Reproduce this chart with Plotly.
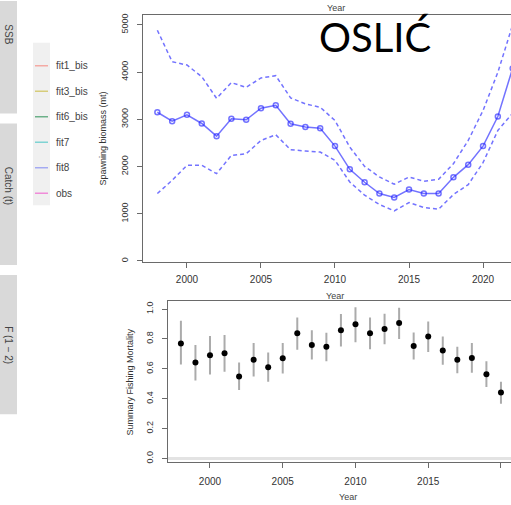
import plotly.graph_objects as go

W, H = 511, 505

# ---------------- data ----------------
years_ssb = list(range(1998, 2023))
ssb = [3150, 2960, 3095, 2912, 2644, 3011, 2990, 3235, 3298, 2905, 2840,
       2813, 2433, 1941, 1667, 1428, 1344, 1513, 1428, 1428, 1772, 2040,
       2433, 3060, 4080]
ssb_hi = [4888, 4220, 4150, 3903, 3445, 3777, 3678, 3876, 3925, 3454, 3327,
          3256, 2975, 2412, 2004, 1779, 1625, 1779, 1688, 1730, 2061, 2553,
          3186, 3994, 5000]
ssb_lo = [1428, 1709, 2026, 2026, 1850, 2237, 2272, 2553, 2673, 2357, 2330,
          2307, 2131, 1673, 1393, 1196, 1061, 1238, 1133, 1097, 1407, 1618,
          2082, 2764, 3130]

years_f = list(range(1998, 2021))
f_val = [0.770, 0.642, 0.691, 0.704, 0.549, 0.660, 0.611, 0.671, 0.838, 0.760,
         0.747, 0.858, 0.898, 0.838, 0.867, 0.907, 0.753, 0.816, 0.722, 0.660,
         0.673, 0.564, 0.442]
f_hi = [0.922, 0.760, 0.820, 0.827, 0.642, 0.773, 0.709, 0.773, 0.944, 0.858,
        0.842, 0.967, 1.013, 0.944, 0.969, 1.009, 0.844, 0.916, 0.816, 0.747,
        0.773, 0.651, 0.513]
f_lo = [0.629, 0.522, 0.562, 0.580, 0.458, 0.549, 0.513, 0.569, 0.727, 0.662,
        0.651, 0.749, 0.778, 0.731, 0.764, 0.800, 0.662, 0.713, 0.627, 0.571,
        0.573, 0.478, 0.367]

legend_names = ["fit1_bis", "fit3_bis", "fit6_bis", "fit7", "fit8", "obs"]
legend_colors = ["#f4aaa4", "#d6cc7a", "#6bb088", "#7fd3d3", "#a4aaf2", "#f08cd9"]

strip_labels = ["SSB", "Catch (t)", "F (1 \u2212 2)"]
x_ticks = [2000, 2005, 2010, 2015, 2020]
ssb_ticks = [0, 1000, 2000, 3000, 4000, 5000]
f_ticks = [0.0, 0.2, 0.4, 0.6, 0.8, 1.0]


def px(x):
    return x / W


def py(y):
    return 1 - y / H


BLUE = "rgba(40,40,255,0.65)"
AX = "#6a6a6a"
FONT = "Liberation Sans, Arial, sans-serif"

fig = go.Figure()

# SSB and confidence bounds
fig.add_trace(go.Scatter(x=years_ssb, y=ssb_hi, mode="lines",
                         line=dict(color=BLUE, width=1.5, dash="4px,3px"),
                         xaxis="x", yaxis="y", hoverinfo="skip"))
fig.add_trace(go.Scatter(x=years_ssb, y=ssb_lo, mode="lines",
                         line=dict(color=BLUE, width=1.5, dash="4px,3px"),
                         xaxis="x", yaxis="y", hoverinfo="skip"))
fig.add_trace(go.Scatter(x=years_ssb, y=ssb, mode="lines+markers",
                         line=dict(color=BLUE, width=1.5),
                         marker=dict(symbol="circle-open", size=5,
                                     line=dict(color=BLUE, width=1.5)),
                         xaxis="x", yaxis="y", cliponaxis=True))

# F with intervals
fig.add_trace(go.Scatter(
    x=years_f, y=f_val, mode="markers",
    marker=dict(color="black", size=6),
    error_y=dict(type="data", symmetric=False,
                 array=[h - v for h, v in zip(f_hi, f_val)],
                 arrayminus=[v - l for l, v in zip(f_lo, f_val)],
                 color="#ababab", thickness=2, width=0),
    xaxis="x2", yaxis="y2"))

axis_common = dict(showgrid=False, zeroline=False, showline=True,
                   linecolor=AX, linewidth=1, ticks="outside", ticklen=5,
                   tickcolor=AX, tickwidth=1)

shapes = []
# horizontal reference at F = 0
shapes.append(dict(type="line", xref="x2 domain", yref="y2", x0=0, x1=1,
                   y0=0, y1=0, line=dict(color="#e3e3e3", width=3),
                   layer="below"))

# left strips
strip_rows = [(0, 113), (123, 265), (275, 415)]
for (y0, y1) in strip_rows:
    shapes.append(dict(type="rect", xref="paper", yref="paper",
                       x0=0, x1=px(17), y0=py(y1), y1=py(y0),
                       fillcolor="#d9d9d9", line=dict(width=0), layer="below"))

# legend key background
shapes.append(dict(type="rect", xref="paper", yref="paper",
                   x0=px(33), x1=px(50), y0=py(205), y1=py(42),
                   fillcolor="#f0f0f0", line=dict(width=0), layer="below"))


def txt(text, x, y, size, color="#333", angle=0, family=FONT,
        xanchor="center"):
    return dict(text=text, x=px(x), y=py(y), xref="paper", yref="paper",
                xanchor=xanchor, yanchor="middle", textangle=angle,
                showarrow=False,
                font=dict(size=size, color=color, family=family))


annotations = []
for i, (nm, col) in enumerate(zip(legend_names, legend_colors)):
    yy = 65 + 25.6 * i
    shapes.append(dict(type="line", xref="paper", yref="paper",
                       x0=px(35), x1=px(48), y0=py(yy), y1=py(yy),
                       line=dict(color=col, width=1.5)))
    annotations.append(txt(nm, 54, yy, 10, "#444",
                           family="Liberation Sans Narrow, " + FONT,
                           xanchor="left"))

strip_centers = [33, 185, 345]
for lab, yc in zip(strip_labels, strip_centers):
    annotations.append(txt(lab, 8.5, yc, 10, "#444", angle=90))

annotations += [
    txt("Spawning biomass (mt)", 103, 138, 9, angle=-90),
    txt("Summary Fishing Mortality", 130, 383, 9, angle=-90),
    txt("Year", 336, 7, 9, "#444"),
    txt("Year", 335, 296, 9, "#444"),
    txt("Year", 348, 498, 9, "#444"),
    txt("OSLI\u0106", 375, 36, 40, "black",
        family="Lato, Open Sans, sans-serif"),
]

fig.update_layout(
    width=W, height=H, margin=dict(l=0, r=0, t=0, b=0),
    paper_bgcolor="white", plot_bgcolor="white", showlegend=False,
    font=dict(family=FONT, color="#333"),
    xaxis=dict(domain=[px(143), 1], range=[1997.03, 2021.89],
               tickvals=x_ticks, mirror=True, anchor="y",
               tickfont=dict(size=10, color="#333"), ticklabelstandoff=3,
               **axis_common),
    yaxis=dict(domain=[py(262), py(14)], range=[-21, 5211],
               tickvals=ssb_ticks, tickangle=-90, anchor="x",
               tickfont=dict(size=9, color="#333"), ticklabelstandoff=5,
               **axis_common),
    xaxis2=dict(domain=[px(167.7), 1], range=[1997.093, 2020.69],
                tickvals=x_ticks, mirror=True, anchor="y2",
                tickfont=dict(size=10, color="#333"), ticklabelstandoff=5,
                **axis_common),
    yaxis2=dict(domain=[py(463.3), py(300.7)], range=[-0.0267, 1.0573],
                tickvals=f_ticks, tickformat=".1f", tickangle=-90, anchor="x2",
                tickfont=dict(size=9, color="#333"), ticklabelstandoff=5,
                **axis_common),
    shapes=shapes, annotations=annotations,
)

fig.write_html("out.html")
